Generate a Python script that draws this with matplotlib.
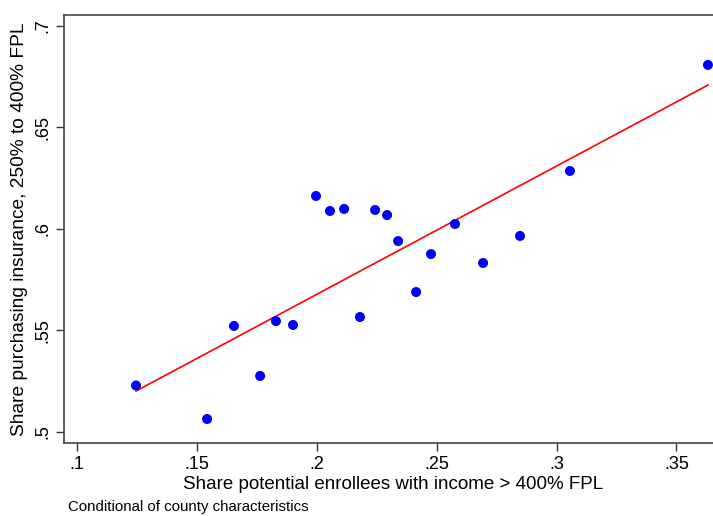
import numpy as np
import matplotlib
matplotlib.use("Agg")
import matplotlib.pyplot as plt

# share of potential enrollees above 400% FPL, by county group
share_high = [0.1248, 0.1544, 0.1656, 0.1765, 0.1831, 0.1902, 0.1998, 0.2056,
              0.2115, 0.2181, 0.2244, 0.2294, 0.2340, 0.2415, 0.2477, 0.2577,
              0.2694, 0.2848, 0.3056, 0.3631]
# share purchasing insurance, 250% to 400% FPL
share_buy = [0.5229, 0.5064, 0.5522, 0.5276, 0.5546, 0.5527, 0.6162, 0.6088,
             0.6098, 0.5566, 0.6093, 0.6068, 0.5940, 0.5689, 0.5876, 0.6024,
             0.5832, 0.5965, 0.6285, 0.6807]
# fitted line (conditional on county characteristics)
fit_intercept = 0.4413
fit_slope = 0.6320

x_ticks = [0.1, 0.15, 0.2, 0.25, 0.3, 0.35]
x_ticklabels = [".1", ".15", ".2", ".25", ".3", ".35"]
y_ticks = [0.5, 0.55, 0.6, 0.65, 0.7]
y_ticklabels = [".5", ".55", ".6", ".65", ".7"]

plt.rcParams['font.family'] = ['Liberation Sans', 'DejaVu Sans']

fig = plt.figure(figsize=(7.13, 5.16), dpi=100)
ax = fig.add_axes([0.0891, 0.1409, 0.925, 0.830])

x = np.array(share_high)
y = np.array(share_buy)
xs = np.array([x.min(), x.max()])

ax.plot(xs, fit_intercept + fit_slope * xs, color='#ff0000', linewidth=1.2, zorder=2)
ax.scatter(x, y, s=52, color='#0000ff', edgecolors='none', zorder=3)

ax.set_xlim(0.09458, 0.3694)
ax.set_ylim(0.49444, 0.70527)
ax.set_xticks(x_ticks)
ax.set_xticklabels(x_ticklabels)
ax.set_yticks(y_ticks)
ax.set_yticklabels(y_ticklabels, rotation=90, va='center')
ax.tick_params(axis='both', labelsize=13, length=6, width=1, color='#333333', pad=3)

for side in ['left', 'bottom', 'top', 'right']:
    ax.spines[side].set_color('#444444')
    ax.spines[side].set_linewidth(1.2)

ax.set_xlabel('Share potential enrollees with income > 400% FPL', fontsize=13.5, labelpad=2)
ax.set_ylabel('Share purchasing insurance, 250% to 400% FPL', fontsize=13.8, labelpad=4)

fig.text(0.095, 0.003, 'Conditional of county characteristics', fontsize=10.8, ha='left', va='bottom')

fig.savefig('out.png', dpi=100)
